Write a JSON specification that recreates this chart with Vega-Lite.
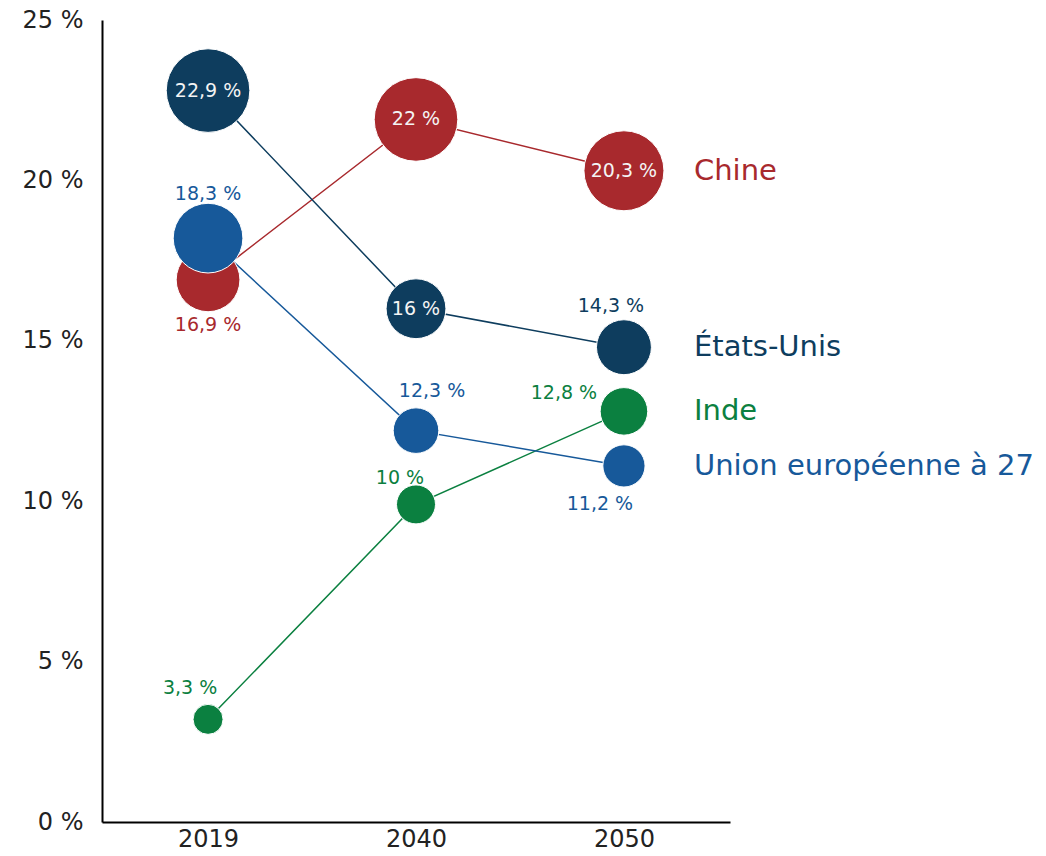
{
  "$schema": "https://vega.github.io/schema/vega-lite/v6.json",
  "width": 628,
  "height": 802,
  "autosize": {"type": "none"},
  "padding": {"left": 102, "top": 20, "right": 316, "bottom": 34},
  "background": "white",
  "config": {
    "view": {"stroke": null},
    "font": "DejaVu Sans",
    "text": {"font": "DejaVu Sans"}
  },
  "data": {
    "values": [
      {"pays": "Chine", "annee": "2019", "valeur": 16.9, "etiquette": "16,9 %"},
      {"pays": "Chine", "annee": "2040", "valeur": 21.9, "etiquette": "22 %"},
      {"pays": "Chine", "annee": "2050", "valeur": 20.3, "etiquette": "20,3 %"},
      {"pays": "États-Unis", "annee": "2019", "valeur": 22.8, "etiquette": "22,9 %"},
      {"pays": "États-Unis", "annee": "2040", "valeur": 16.0, "etiquette": "16 %"},
      {"pays": "États-Unis", "annee": "2050", "valeur": 14.8, "etiquette": "14,3 %"},
      {"pays": "Inde", "annee": "2019", "valeur": 3.2, "etiquette": "3,3 %"},
      {"pays": "Inde", "annee": "2040", "valeur": 9.9, "etiquette": "10 %"},
      {"pays": "Inde", "annee": "2050", "valeur": 12.8, "etiquette": "12,8 %"},
      {"pays": "Union européenne à 27", "annee": "2019", "valeur": 18.2, "etiquette": "18,3 %"},
      {"pays": "Union européenne à 27", "annee": "2040", "valeur": 12.2, "etiquette": "12,3 %"},
      {"pays": "Union européenne à 27", "annee": "2050", "valeur": 11.1, "etiquette": "11,2 %"}
    ]
  },
  "encoding": {
    "x": {
      "field": "annee", "type": "ordinal",
      "scale": {"type": "point", "padding": 0.51},
      "axis": {
        "title": null, "labelAngle": 0, "ticks": false, "grid": false,
        "domainColor": "#000000", "domainWidth": 2,
        "labelFontSize": 24, "labelColor": "#222222", "labelPadding": 5,
        "labelFont": "DejaVu Sans"
      }
    },
    "y": {
      "field": "valeur", "type": "quantitative",
      "scale": {"domain": [0, 25], "nice": false, "zero": true},
      "axis": {
        "title": null, "values": [0, 5, 10, 15, 20, 25],
        "labelExpr": "datum.value + ' %'",
        "ticks": false, "grid": false,
        "domainColor": "#000000", "domainWidth": 2,
        "labelFontSize": 24, "labelColor": "#222222", "labelPadding": 19,
        "labelFont": "DejaVu Sans"
      }
    },
    "color": {
      "field": "pays", "type": "nominal", "legend": null,
      "scale": {
        "domain": ["Chine", "États-Unis", "Inde", "Union européenne à 27"],
        "range": ["#a8292d", "#0e3d5e", "#0b8040", "#17599a"]
      }
    }
  },
  "layer": [
    {
      "mark": {"type": "line", "strokeWidth": 1.5},
      "encoding": {"detail": {"field": "pays"}}
    },
    {
      "mark": {"type": "point", "filled": true, "opacity": 1, "stroke": "white", "strokeWidth": 1},
      "encoding": {
        "size": {
          "field": "valeur", "type": "quantitative", "legend": null,
          "scale": {"type": "pow", "exponent": 3, "domain": [3.2, 21.0], "range": [900, 6990], "clamp": true}
        }
      }
    },
    {
      "transform": [{"filter": "(datum.pays === 'États-Unis' && (datum.annee === '2019' || datum.annee === '2040')) || (datum.pays === 'Chine' && (datum.annee === '2040' || datum.annee === '2050'))"}],
      "mark": {"type": "text", "fontSize": 19, "align": "center", "baseline": "middle"},
      "encoding": {"text": {"field": "etiquette"}, "color": {"value": "#f4f4f4"}}
    },
    {
      "transform": [{"filter": "datum.pays === 'Union européenne à 27' && datum.annee === '2019'"}],
      "mark": {"type": "text", "fontSize": 19, "align": "center", "baseline": "middle", "dy": -44},
      "encoding": {"text": {"field": "etiquette"}}
    },
    {
      "transform": [{"filter": "datum.pays === 'Chine' && datum.annee === '2019'"}],
      "mark": {"type": "text", "fontSize": 19, "align": "center", "baseline": "middle", "dy": 45},
      "encoding": {"text": {"field": "etiquette"}}
    },
    {
      "transform": [{"filter": "datum.pays === 'États-Unis' && datum.annee === '2050'"}],
      "mark": {"type": "text", "fontSize": 19, "align": "center", "baseline": "middle", "dx": -13, "dy": -41},
      "encoding": {"text": {"field": "etiquette"}}
    },
    {
      "transform": [{"filter": "datum.pays === 'Union européenne à 27' && datum.annee === '2040'"}],
      "mark": {"type": "text", "fontSize": 19, "align": "center", "baseline": "middle", "dx": 16, "dy": -40},
      "encoding": {"text": {"field": "etiquette"}}
    },
    {
      "transform": [{"filter": "datum.pays === 'Inde' && datum.annee === '2050'"}],
      "mark": {"type": "text", "fontSize": 19, "align": "center", "baseline": "middle", "dx": -60, "dy": -18},
      "encoding": {"text": {"field": "etiquette"}}
    },
    {
      "transform": [{"filter": "datum.pays === 'Union européenne à 27' && datum.annee === '2050'"}],
      "mark": {"type": "text", "fontSize": 19, "align": "center", "baseline": "middle", "dx": -24, "dy": 38},
      "encoding": {"text": {"field": "etiquette"}}
    },
    {
      "transform": [{"filter": "datum.pays === 'Inde' && datum.annee === '2040'"}],
      "mark": {"type": "text", "fontSize": 19, "align": "center", "baseline": "middle", "dx": -16, "dy": -26},
      "encoding": {"text": {"field": "etiquette"}}
    },
    {
      "transform": [{"filter": "datum.pays === 'Inde' && datum.annee === '2019'"}],
      "mark": {"type": "text", "fontSize": 19, "align": "center", "baseline": "middle", "dx": -18, "dy": -31},
      "encoding": {"text": {"field": "etiquette"}}
    },
    {
      "transform": [{"filter": "datum.annee === '2050'"}],
      "mark": {"type": "text", "fontSize": 29, "align": "left", "baseline": "middle", "dx": 70, "clip": false},
      "encoding": {"text": {"field": "pays"}}
    }
  ]
}
